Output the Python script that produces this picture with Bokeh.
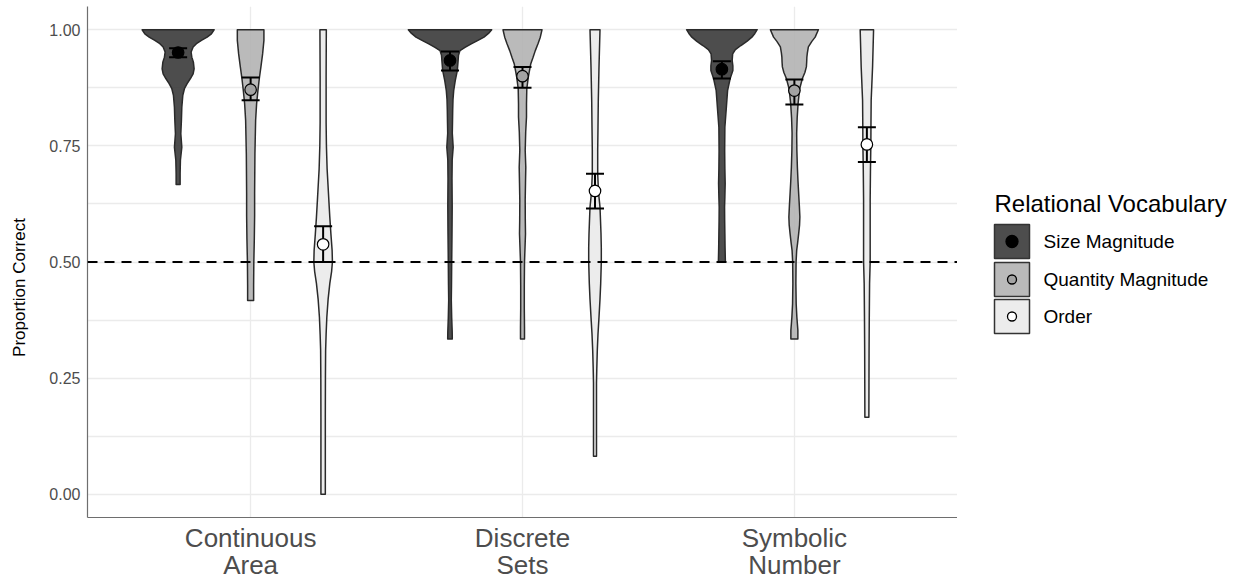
import numpy as np
from bokeh.plotting import figure
from bokeh.models import Range1d, FixedTicker, Span
from bokeh.layouts import row, column
from bokeh.embed import file_html
from bokeh.resources import INLINE
from bokeh.core.properties import value

# ---------------- data ----------------
domains = ["Continuous\nArea", "Discrete\nSets", "Symbolic\nNumber"]
vocab = ["Size Magnitude", "Quantity Magnitude", "Order"]
y_title = "Proportion Correct"
legend_title = "Relational Vocabulary"
y_ticks = [0.0, 0.25, 0.5, 0.75, 1.0]
y_tick_labels = ["0.00", "0.25", "0.50", "0.75", "1.00"]
chance_level = 0.5

# means and confidence intervals per vocabulary (order: CA, DS, SN)
mean_size = [0.951, 0.934, 0.915]
lo_size = [0.941, 0.912, 0.895]
hi_size = [0.960, 0.953, 0.932]
mean_quantity = [0.871, 0.900, 0.869]
lo_quantity = [0.848, 0.875, 0.839]
hi_quantity = [0.897, 0.920, 0.893]
mean_order = [0.538, 0.653, 0.753]
lo_order = [0.500, 0.615, 0.715]
hi_order = [0.577, 0.690, 0.790]

# violin density profiles (y level, relative density), bottom to top
ca_size_y = [0.667, 0.690, 0.719, 0.747, 0.776, 0.805, 0.833, 0.859, 0.873, 0.884, 0.895, 0.905, 0.916, 0.930, 0.941, 0.952, 0.963, 0.970, 0.977, 0.984, 0.991, 1.0]
ca_size_d = [2.0, 2.0, 2.3, 3.7, 2.7, 3.3, 3.7, 4.7, 6.3, 9.0, 12.3, 15.0, 16.0, 15.3, 13.7, 13.0, 15.0, 18.3, 23.3, 29.0, 33.3, 36.0]
ca_quantity_y = [0.417, 0.45, 0.5, 0.55, 0.6, 0.647, 0.733, 0.805, 0.841, 0.869, 0.895, 0.920, 0.948, 0.977, 1.0]
ca_quantity_d = [3.0, 3.0, 3.2, 3.7, 4.0, 4.0, 4.3, 5.0, 6.0, 7.3, 8.7, 10.3, 12.0, 13.3, 13.3]
ca_order_y = [0.0, 0.08, 0.166, 0.25, 0.31, 0.345, 0.381, 0.42, 0.454, 0.48, 0.5, 0.525, 0.56, 0.596, 0.63, 0.669, 0.7, 0.75, 0.8, 0.9, 1.0]
ca_order_d = [2.2, 2.2, 2.2, 2.3, 2.5, 3.0, 3.7, 5.0, 6.7, 8.5, 9.3, 9.0, 7.8, 6.7, 5.8, 4.8, 4.0, 3.3, 3.0, 3.0, 3.2]

ds_size_y = [0.334, 0.35, 0.38, 0.418, 0.45, 0.5, 0.56, 0.62, 0.68, 0.72, 0.747, 0.777, 0.80, 0.826, 0.85, 0.869, 0.891, 0.912, 0.93, 0.945, 0.955, 0.962, 0.970, 0.977, 0.984, 0.992, 1.0]
ds_size_d = [2.3, 2.2, 1.7, 1.3, 1.5, 1.7, 2.0, 2.2, 2.0, 2.2, 3.2, 2.3, 2.5, 2.7, 3.0, 3.7, 5.3, 7.3, 8.0, 8.5, 10.0, 15.0, 21.7, 28.0, 34.0, 38.5, 41.7]
ds_quantity_y = [0.334, 0.36, 0.40, 0.45, 0.5, 0.53, 0.561, 0.59, 0.633, 0.67, 0.704, 0.74, 0.78, 0.812, 0.84, 0.873, 0.898, 0.91, 0.927, 0.94, 0.955, 0.97, 0.984, 1.0]
ds_quantity_d = [2.0, 2.0, 1.8, 1.8, 2.0, 2.5, 3.0, 2.8, 2.7, 3.0, 3.3, 2.7, 3.2, 4.0, 4.0, 4.3, 5.8, 6.8, 8.3, 10.5, 12.8, 15.5, 17.8, 19.5]
ds_order_y = [0.082, 0.12, 0.18, 0.239, 0.27, 0.31, 0.345, 0.381, 0.42, 0.454, 0.5, 0.53, 0.561, 0.59, 0.618, 0.65, 0.69, 0.74, 0.79, 0.848, 0.92, 0.96, 1.0]
ds_order_d = [1.5, 1.5, 1.5, 1.5, 1.8, 2.3, 3.0, 4.0, 5.0, 5.7, 6.3, 6.3, 6.0, 5.5, 5.0, 3.5, 2.7, 2.7, 3.0, 3.3, 4.0, 4.5, 5.0]

sn_size_y = [0.5, 0.53, 0.561, 0.59, 0.618, 0.64, 0.669, 0.70, 0.74, 0.79, 0.833, 0.869, 0.895, 0.912, 0.922, 0.934, 0.948, 0.957, 0.966, 0.975, 0.984, 0.992, 1.0]
sn_size_d = [3.5, 3.2, 3.0, 2.8, 2.7, 3.0, 3.3, 3.0, 2.8, 3.0, 4.5, 5.7, 8.3, 11.0, 11.0, 10.3, 10.8, 13.5, 19.0, 25.0, 30.0, 33.0, 35.3]
sn_quantity_y = [0.334, 0.353, 0.381, 0.41, 0.454, 0.5, 0.525, 0.54, 0.561, 0.58, 0.597, 0.62, 0.647, 0.675, 0.704, 0.74, 0.777, 0.81, 0.841, 0.873, 0.895, 0.908, 0.92, 0.93, 0.941, 0.95, 0.963, 0.975, 0.984, 1.0]
sn_quantity_d = [3.5, 3.5, 2.5, 1.8, 1.5, 1.7, 2.3, 3.2, 4.3, 5.2, 5.5, 5.0, 4.3, 3.6, 3.0, 2.5, 2.3, 2.8, 3.7, 5.3, 8.0, 10.5, 12.0, 12.3, 12.5, 13.0, 14.0, 17.5, 20.8, 24.0]
sn_order_y = [0.166, 0.24, 0.31, 0.38, 0.454, 0.5, 0.633, 0.70, 0.755, 0.8, 0.848, 0.92, 0.96, 1.0]
sn_order_d = [2.0, 2.1, 2.2, 2.4, 2.7, 3.3, 3.3, 3.6, 4.0, 4.1, 4.3, 5.7, 6.2, 6.7]

# ---------------- styling / layout ----------------
FONT = "Liberation Sans"
fills = ["#3a3a3a", "#b3b3b3", "#eaeaea"]
point_fills = ["#000000", "#a3a3a3", "#ffffff"]
outline = "#2a2a2a"
DENSITY_SCALE = 1.0 / 272.0
dodge = [-0.8 / 3, 0.0, 0.8 / 3]
FRAME_BOTTOM = 517   # frame bottom edge on the page
AXIS_PAD = 3         # room under the frame for the bottom axis line
TOP_H = FRAME_BOTTOM + AXIS_PAD
BOTTOM_H = 579 - TOP_H
BORDER_TOP = 6
YT_W = 30            # strip holding the rotated y title
LEFT = 87            # frame left edge
FRAME_RIGHT = 957

profiles = [
    [(ca_size_y, ca_size_d), (ca_quantity_y, ca_quantity_d), (ca_order_y, ca_order_d)],
    [(ds_size_y, ds_size_d), (ds_quantity_y, ds_quantity_d), (ds_order_y, ds_order_d)],
    [(sn_size_y, sn_size_d), (sn_quantity_y, sn_quantity_d), (sn_order_y, sn_order_d)],
]
means = [mean_size, mean_quantity, mean_order]
los = [lo_size, lo_quantity, lo_order]
his = [hi_size, hi_quantity, hi_order]

xr = Range1d(0.4, 3.6)

p = figure(width=FRAME_RIGHT - YT_W, height=TOP_H, x_range=xr, y_range=Range1d(-0.05, 1.05),
           output_backend="svg", toolbar_location=None,
           min_border_left=LEFT - YT_W, min_border_right=0, min_border_top=BORDER_TOP,
           min_border_bottom=AXIS_PAD)
p.outline_line_color = None
p.background_fill_color = "white"

# grid
p.xgrid.ticker = FixedTicker(ticks=[1, 2, 3])
p.ygrid.ticker = FixedTicker(ticks=[i * 0.125 for i in range(9)])
for g in (p.xgrid, p.ygrid):
    g.grid_line_color = "#ebebeb"
    g.grid_line_width = 1.3

# axes (category labels are drawn in the strip below)
p.xaxis.ticker = FixedTicker(ticks=[1, 2, 3])
p.xaxis.major_label_overrides = {1: "", 2: "", 3: ""}
p.xaxis.major_label_standoff = 0
p.yaxis.ticker = FixedTicker(ticks=y_ticks)
p.yaxis.major_label_overrides = {t: l for t, l in zip(y_ticks, y_tick_labels)}
for ax in (p.xaxis, p.yaxis):
    ax.axis_line_color = "#6e6e6e"
    ax.axis_line_width = 1.2
    ax.major_tick_line_color = None
    ax.minor_tick_line_color = None
    ax.major_tick_out = 0
    ax.major_tick_in = 0
    ax.major_label_text_font = FONT
    ax.major_label_text_color = "#4d4d4d"
p.yaxis.major_label_text_font_size = "16px"
p.yaxis.major_label_standoff = 7

# violins
for gi in range(3):
    for vi in range(3):
        ys, ds = profiles[gi][vi]
        ys = np.asarray(ys, dtype=float)
        hw = np.asarray(ds, dtype=float) * DENSITY_SCALE
        c = gi + 1 + dodge[vi]
        xs = np.concatenate([c + hw, (c - hw)[::-1]])
        yy = np.concatenate([ys, ys[::-1]])
        p.patch(xs, yy, fill_color=fills[vi], fill_alpha=0.9,
                line_color=outline, line_width=1.5, line_join="round")

# error bars and means
for vi in range(3):
    xs = [gi + 1 + dodge[vi] for gi in range(3)]
    p.segment(x0=xs, y0=los[vi], x1=xs, y1=his[vi], line_color="black", line_width=2)
    p.scatter(xs, los[vi], marker="dash", size=18, line_color="black", line_width=2)
    p.scatter(xs, his[vi], marker="dash", size=18, line_color="black", line_width=2)
    p.scatter(xs, means[vi], marker="circle", size=11.5, fill_color=point_fills[vi],
              line_color="black", line_width=1.2)

p.add_layout(Span(location=chance_level, dimension="width", line_color="black",
                  line_width=2, line_dash="10 7"))

# ---------------- y title strip ----------------
yt = figure(width=YT_W, height=TOP_H, x_range=Range1d(0, YT_W),
            y_range=Range1d(FRAME_BOTTOM, BORDER_TOP), output_backend="svg", toolbar_location=None,
            min_border_left=0, min_border_right=0, min_border_top=BORDER_TOP,
            min_border_bottom=AXIS_PAD)
yt.axis.visible = False
yt.grid.visible = False
yt.outline_line_color = None
yt.text(x=[19], y=[287], text=[y_title], angle=np.pi / 2, text_font=value(FONT),
        text_font_size="17px", text_align="center", text_baseline="middle", text_color="black")

# ---------------- legend panel (pixel coordinates) ----------------
lg = figure(width=1238 - FRAME_RIGHT, height=TOP_H, x_range=Range1d(0, 1238 - FRAME_RIGHT),
            y_range=Range1d(FRAME_BOTTOM, BORDER_TOP), output_backend="svg", toolbar_location=None,
            min_border_left=0, min_border_right=0, min_border_top=BORDER_TOP,
            min_border_bottom=AXIS_PAD)
lg.axis.visible = False
lg.grid.visible = False
lg.outline_line_color = None

key_x = 54.5
key_y = [241, 279, 316]
lg.text(x=[37], y=[203], text=[legend_title], text_font=value(FONT),
        text_font_size="24px", text_baseline="middle", text_align="left", text_color="black")
lg.rect(x=[key_x] * 3, y=key_y, width=35, height=34, fill_color=fills, fill_alpha=0.9,
        line_color="#333333", line_width=1.5)
lg.scatter(x=[key_x] * 3, y=key_y, size=[12, 9, 9], fill_color=point_fills,
           line_color="black", line_width=1.3)
lg.text(x=[86] * 3, y=key_y, text=vocab, text_font=value(FONT), text_font_size="19px",
        text_baseline="middle", text_align="left", text_color="black")

# ---------------- category label strip ----------------
xl = figure(width=FRAME_RIGHT, height=BOTTOM_H, x_range=xr, y_range=Range1d(579, TOP_H),
            output_backend="svg", toolbar_location=None,
            min_border_left=LEFT, min_border_right=0, min_border_top=0, min_border_bottom=0)
xl.axis.visible = False
xl.grid.visible = False
xl.outline_line_color = None
xl.text(x=[1, 2, 3], y=[522] * 3, text=domains, text_font=value(FONT), text_font_size="26px",
        text_align="center", text_baseline="top", text_line_height=0.92, text_color="#4d4d4d")

layout = column(row(yt, p, lg), xl)
open("out.html", "w").write(file_html(layout, INLINE))
